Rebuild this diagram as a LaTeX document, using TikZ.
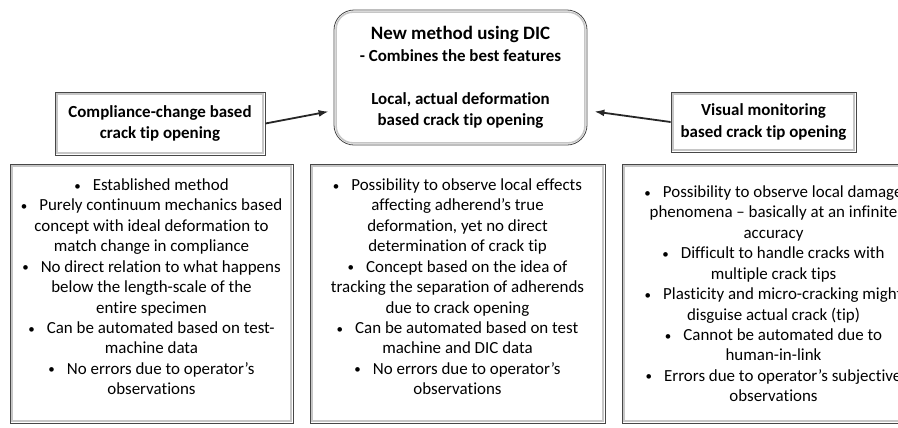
\documentclass[tikz,border=0pt]{standalone}
\usepackage{fontspec}
\setmainfont{Carlito}[Ligatures=NoCommon]
\usetikzlibrary{arrows.meta,positioning}

\newcommand{\itm}{\raisebox{0.5bp}{\fontsize{13}{13}\selectfont\textbullet}\hspace{12bp}}

\tikzset{
  frame/.style={draw=black!72, line width=0.8bp, fill=white, inner sep=0pt},
  bevel/.style={draw=gray!45, line width=1.6bp},
  titlebox/.style={frame, align=center, font=\bfseries\fontsize{17}{21.5}\selectfont},
  listtext/.style={align=center, font=\fontsize{17}{20.5}\selectfont, inner sep=0pt},
  arr/.style={-{Latex[length=10bp,width=7bp]}, line width=1.8bp, black!85},
}

\begin{document}
\begin{tikzpicture}[x=1bp,y=-1bp]
\useasboundingbox (0,0) rectangle (898,427);
\clip (0,0) rectangle (898,427);

% top row
\node[titlebox, rounded corners=20bp, minimum width=253bp, minimum height=135bp] (newm) at (460.5,77.5)
  {{\fontsize{19}{22}\selectfont New method using DIC}\\ - Combines the best features\\[22bp]
   Local, actual deformation\\ based crack tip opening};
\node[titlebox, minimum width=210bp, minimum height=63bp] (compl) at (160,123.5)
  {Compliance-change based\\ crack tip opening};
\node[titlebox, minimum width=185bp, minimum height=60bp] (visual) at (763.5,122)
  {Visual monitoring\\ based crack tip opening};

\draw[arr] (compl.east) -- ([xshift=-5bp,yshift=-34bp]newm.west);
\draw[arr] (visual.west) -- ([xshift=7bp,yshift=-34bp]newm.east);

% lower row
\node[frame, minimum width=283bp, minimum height=259bp] (complist) at (151.5,293.5) {};
\node[frame, minimum width=295bp, minimum height=259bp] (diclist) at (457.5,293.5) {};
\node[frame, minimum width=313bp, minimum height=259bp] (visualist) at (778.5,293.5) {};

% inner shading of the frames
\draw[bevel, rounded corners=17bp] ([xshift=2.5bp,yshift=-2.5bp]newm.north west) rectangle ([xshift=-2.5bp,yshift=2.5bp]newm.south east);
\foreach \n in {compl,visual,complist,diclist,visualist}
  \draw[bevel] ([xshift=2.5bp,yshift=-2.5bp]\n.north west) rectangle ([xshift=-2.5bp,yshift=2.5bp]\n.south east);

\node[listtext, below=15bp of complist.north] (compltxt)
  {\itm Established method\\
   \itm Purely continuum mechanics based\\ concept with ideal deformation to\\ match change in compliance\\
   \itm No direct relation to what happens\\ below the length-scale of the\\ entire specimen\\
   \itm Can be automated based on test-\\ machine data\\
   \itm No errors due to operator’s\\ observations};
\node[listtext, below=15bp of diclist.north] (dictxt)
  {\itm Possibility to observe local effects\\ affecting adherend’s true\\ deformation, yet no direct\\ determination of crack tip\\
   \itm Concept based on the idea of\\ tracking the separation of adherends\\ due to crack opening\\
   \itm Can be automated based on test\\ machine and DIC data\\
   \itm No errors due to operator’s\\ observations};
\node[listtext, below=22bp of visualist.north, xshift=-5bp] (visualtxt)
  {\itm Possibility to observe local damage\\ phenomena – basically at an infinite\\ accuracy\\
   \itm Difficult to handle cracks with\\ multiple crack tips\\
   \itm Plasticity and micro-cracking might\\ disguise actual crack (tip)\\
   \itm Cannot be automated due to\\ human-in-link\\
   \itm Errors due to operator’s subjective\\ observations};
\end{tikzpicture}
\end{document}
